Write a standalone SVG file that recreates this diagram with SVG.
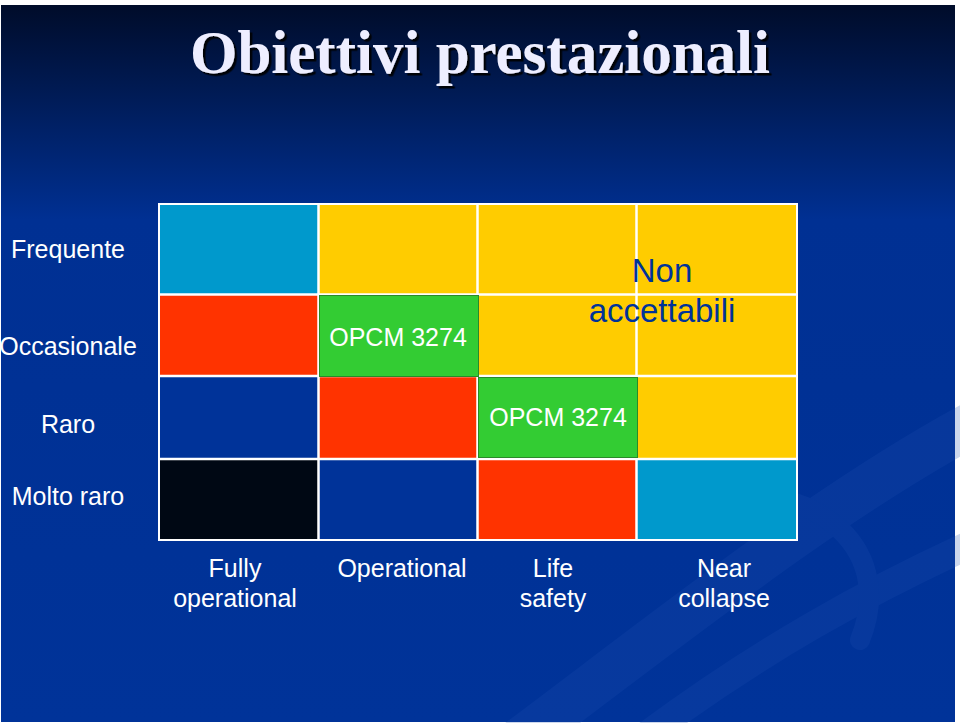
<svg xmlns="http://www.w3.org/2000/svg" width="960" height="723" viewBox="0 0 960 723">
<defs>
<linearGradient id="bg" x1="0" y1="0" x2="0" y2="1">
<stop offset="0" stop-color="#000c2a"/>
<stop offset="0.3" stop-color="#003093"/>
<stop offset="1" stop-color="#003399"/>
</linearGradient>
<filter id="shadow" x="-5%" y="-20%" width="110%" height="140%">
<feDropShadow dx="2.5" dy="2.5" stdDeviation="0.6" flood-color="#000000" flood-opacity="0.9"/>
</filter>
<style>
.lbl{font-family:"Liberation Sans",Arial,sans-serif;font-size:25px;fill:#ffffff;text-anchor:middle}
.cy{fill:#0099cc}.ye{fill:#ffcc00}.re{fill:#ff3300}.nv{fill:#003399}.bk{fill:#000814}
.gr{fill:#33cc33;stroke:#2a8a2a;stroke-width:1}
.grid{stroke:#ffffff;stroke-width:2.5;fill:none}
</style>
</defs>
<rect x="0" y="0" width="960" height="723" fill="#ffffff"/>
<rect x="1" y="5" width="954" height="717" fill="url(#bg)"/>
<g id="swoosh" fill="none" stroke="#2050b0" opacity="0.22" stroke-linecap="round">
<path d="M520 740 C 680 620, 830 500, 980 420" stroke-width="45"/>
<path d="M640 740 C 760 650, 870 590, 980 540" stroke-width="28"/>
<path d="M720 500 C 800 480, 900 540, 860 640" stroke-width="20"/>
</g>
<text x="480" y="73" text-anchor="middle" font-family="'Liberation Serif','Times New Roman',serif" font-weight="bold" font-size="61" fill="#eeeeff" filter="url(#shadow)">Obiettivi prestazionali</text>
<g id="cells">
<rect x="158" y="203" width="640" height="338" fill="#ffffff"/>
<rect class="cy" x="160" y="205" width="159" height="89"/>
<rect class="ye" x="319" y="205" width="159" height="89"/>
<rect class="ye" x="478" y="205" width="159" height="89"/>
<rect class="ye" x="637" y="205" width="159" height="89"/>
<rect class="re" x="160" y="294" width="159" height="82"/>
<rect class="ye" x="478" y="294" width="159" height="82"/>
<rect class="ye" x="637" y="294" width="159" height="82"/>
<rect class="nv" x="160" y="376" width="159" height="83"/>
<rect class="re" x="319" y="376" width="159" height="83"/>
<rect class="ye" x="637" y="376" width="159" height="83"/>
<rect class="bk" x="160" y="459" width="159" height="80"/>
<rect class="nv" x="319" y="459" width="159" height="80"/>
<rect class="re" x="478" y="459" width="159" height="80"/>
<rect class="cy" x="637" y="459" width="159" height="80"/>
</g>
<g id="gridlines" class="grid">
<line x1="318.5" y1="204" x2="318.5" y2="540"/>
<line x1="477.5" y1="204" x2="477.5" y2="540"/>
<line x1="636.5" y1="204" x2="636.5" y2="540"/>
<line x1="159" y1="294.5" x2="797" y2="294.5"/>
<line x1="159" y1="376" x2="797" y2="376"/>
<line x1="159" y1="459" x2="797" y2="459"/>
</g>
<g id="opcm1">
<rect class="gr" x="319.5" y="295.5" width="159" height="81"/>
<text class="lbl" x="398" y="346">OPCM 3274</text>
</g>
<g id="opcm2">
<rect class="gr" x="478.5" y="377.5" width="159" height="80"/>
<text class="lbl" x="558" y="426">OPCM 3274</text>
</g>
<g id="nonacc">
<text x="662" y="282" text-anchor="middle" font-family="'Liberation Sans',Arial,sans-serif" font-size="33" fill="#003399">Non</text>
<text x="662" y="322" text-anchor="middle" font-family="'Liberation Sans',Arial,sans-serif" font-size="33" fill="#003399">accettabili</text>
</g>
<g id="rowlabels">
<text class="lbl" x="68" y="258">Frequente</text>
<text class="lbl" x="68" y="355">Occasionale</text>
<text class="lbl" x="68" y="433">Raro</text>
<text class="lbl" x="68" y="505">Molto raro</text>
</g>
<g id="collabels">
<text class="lbl" x="235" y="577">Fully</text>
<text class="lbl" x="235" y="607">operational</text>
<text class="lbl" x="402" y="577">Operational</text>
<text class="lbl" x="553" y="577">Life</text>
<text class="lbl" x="553" y="607">safety</text>
<text class="lbl" x="724" y="577">Near</text>
<text class="lbl" x="724" y="607">collapse</text>
</g>
</svg>
